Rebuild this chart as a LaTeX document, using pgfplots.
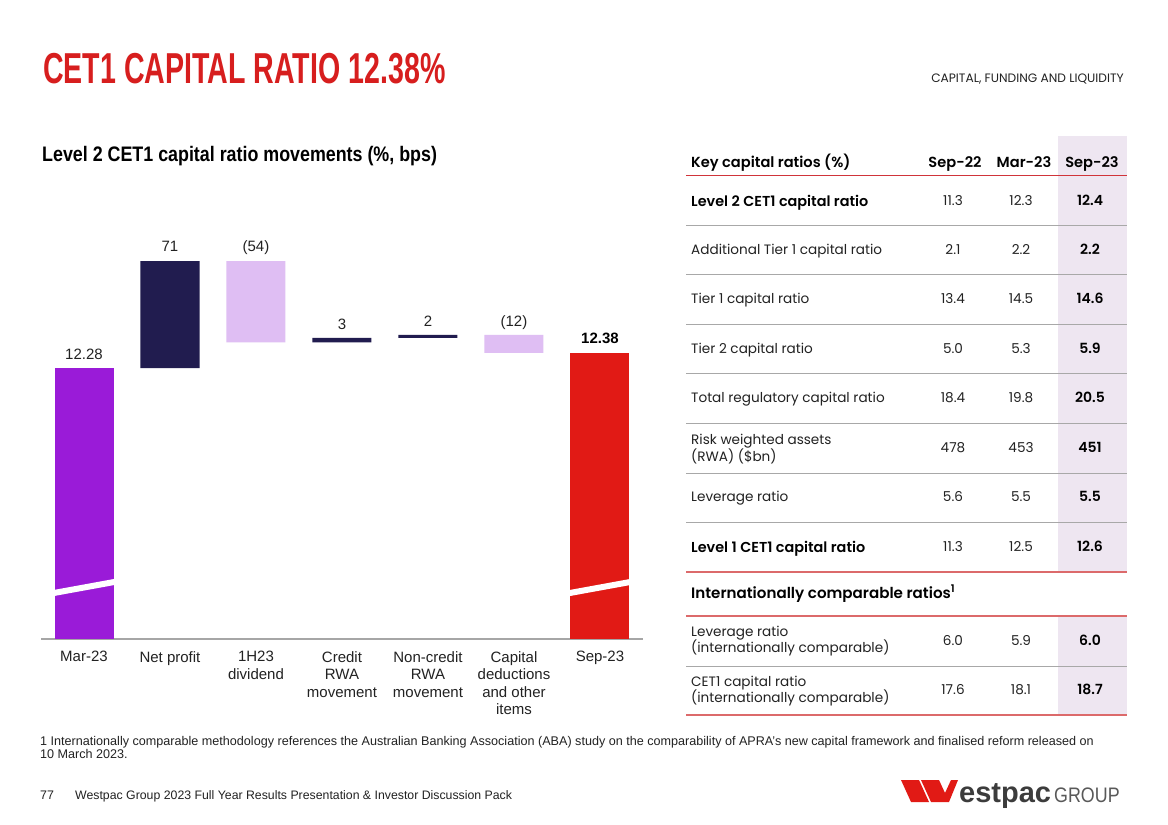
\documentclass[border=0pt]{standalone}
\usepackage{fontspec}
\usepackage{pgfplots}
\pgfplotsset{compat=1.18}
\setmainfont{Liberation Sans}
\IfFontExistsTF{Poppins SemiBold}{\newfontfamily\pop[BoldFont={Poppins SemiBold}]{Poppins}}{\newfontfamily\pop{Poppins}}
\newfontfamily\titlefont[FakeStretch=0.66]{Liberation Sans}
\newfontfamily\subfont[FakeStretch=0.85]{Liberation Sans}
\definecolor{cpurple}{HTML}{9A1BD8}
\definecolor{cnavy}{HTML}{211C4F}
\definecolor{clav}{HTML}{DFBEF3}
\definecolor{cred}{HTML}{E11A15}
\definecolor{titlered}{HTML}{D71E1E}
\definecolor{colshade}{HTML}{EEE6F1}
\definecolor{redline}{HTML}{DC6A6B}
\definecolor{hdrline}{HTML}{D0343A}
\definecolor{sepgray}{HTML}{A8A8A8}
\definecolor{axisgray}{HTML}{A6A6A6}
\definecolor{txt}{HTML}{222222}
\definecolor{logogray}{HTML}{3C3C3C}
\begin{document}
\begin{tikzpicture}
\begin{scope}[x=1pt,y=-1pt]
\path[use as bounding box, fill=white] (0,0) rectangle (1168,825);
% titles
\node[anchor=base west, inner sep=0, text=titlered, font=\titlefont\bfseries\fontsize{43.3}{44}\selectfont] at (43,83) {CET1 CAPITAL RATIO 12.38\%};
\node[anchor=base east, inner sep=0, text=txt, font=\pop\fontsize{12.2}{14}\selectfont] at (1124,82) {CAPITAL, FUNDING AND LIQUIDITY};
\node[anchor=base west, inner sep=0, text=black, font=\subfont\bfseries\fontsize{21}{22}\selectfont] at (42,161) {Level 2 CET1 capital ratio movements (\%, bps)};
% table shading
\fill[colshade] (1058,136) rectangle (1127,572);
\fill[colshade] (1058,616) rectangle (1127,715);
% header
\node[anchor=base west, inner sep=0, text=black, font=\pop\bfseries\fontsize{14.6}{16}\selectfont] at (691,167) {Key capital ratios (\%)};
\foreach \xx/\tt in {955/Sep-22, 1024/Mar-23, 1092/Sep-23}
  \node[anchor=base, inner sep=0, text=black, font=\pop\bfseries\fontsize{14.6}{16}\selectfont] at (\xx,167) {\tt};
\draw[hdrline, line width=1pt] (686,175) -- (1127,175);
% separators
\foreach \yy in {225,274,324,373,423,473,522,666}
  \draw[sepgray, line width=1pt] (686,\yy) -- (1127,\yy);
\foreach \yy in {572,616,715}
  \draw[redline, line width=1.8pt] (686,\yy) -- (1127,\yy);
% rows
\foreach \yy/\lab in {
  250/Additional Tier 1 capital ratio,
  299/Tier 1 capital ratio,
  349/Tier 2 capital ratio,
  398/Total regulatory capital ratio,
  497/Leverage ratio}{
  \node[anchor=base west, inner sep=0, text=txt, font=\pop\fontsize{13.6}{17}\selectfont] at (691,\yy+4.8) {\lab};
}
\foreach \yy/\lab in {201/Level 2 CET1 capital ratio, 547/Level 1 CET1 capital ratio}
  \node[anchor=base west, inner sep=0, text=black, font=\pop\bfseries\fontsize{14.4}{17}\selectfont] at (691,\yy+5) {\lab};
\node[anchor=west, inner sep=0, text=txt, align=left, font=\pop\fontsize{13.6}{16.5}\selectfont] at (691,449) {Risk weighted assets\\(RWA) (\$bn)};
\node[anchor=west, inner sep=0, text=txt, align=left, font=\pop\fontsize{13.6}{16.5}\selectfont] at (691,641) {Leverage ratio\\(internationally comparable)};
\node[anchor=west, inner sep=0, text=txt, align=left, font=\pop\fontsize{13.6}{16.5}\selectfont] at (691,691) {CET1 capital ratio\\(internationally comparable)};
\node[anchor=base west, inner sep=0, text=black, font=\pop\bfseries\fontsize{15.1}{17}\selectfont] at (691,598) {Internationally comparable ratios\textsuperscript{1}};
% values
\foreach \yy/\a/\b/\c in {201/11.3/12.3/12.4, 250/2.1/2.2/2.2, 299/13.4/14.5/14.6, 349/5.0/5.3/5.9, 398/18.4/19.8/20.5, 448/478/453/451, 497/5.6/5.5/5.5, 547/11.3/12.5/12.6, 641/6.0/5.9/6.0, 690/17.6/18.1/18.7}{
  \node[anchor=base, inner sep=0, text=txt, font=\pop\fontsize{13.6}{16}\selectfont] at (953,\yy+4.8) {\a};
  \node[anchor=base, inner sep=0, text=txt, font=\pop\fontsize{13.6}{16}\selectfont] at (1021,\yy+4.8) {\b};
  \node[anchor=base, inner sep=0, text=black, font=\pop\bfseries\fontsize{14}{16}\selectfont] at (1090,\yy+4.9) {\c};
}
% footnote and footer
\node[anchor=base west, inner sep=0, text=txt, align=left, font=\fontsize{12.6}{11.2}\selectfont] at (40,758) {1 Internationally comparable methodology references the Australian Banking Association (ABA) study on the comparability of APRA's new capital framework and finalised reform released on\\10 March 2023.};
\node[anchor=base west, inner sep=0, text=txt, font=\fontsize{12.4}{14}\selectfont] at (40,799) {77};
\node[anchor=base west, inner sep=0, text=txt, font=\fontsize{12.3}{14}\selectfont] at (75,799) {Westpac Group 2023 Full Year Results Presentation \& Investor Discussion Pack};
% logo
\fill[cred] (901,780) -- (919,780) -- (929,802) -- (911,802) -- cycle;
\fill[cred] (921,780) -- (939,780) -- (945,793) -- (951,780) -- (958,780) -- (949,802) -- (931,802) -- cycle;
\node[anchor=base west, inner sep=0, text=logogray, font=\bfseries\fontsize{29}{30}\selectfont] at (959,802) {estpac};
\node[anchor=base west, inner sep=0, text=logogray!85, font=\subfont\fontsize{21}{22}\selectfont] at (1054,802) {GROUP};
\end{scope}
\begin{axis}[
  at={(41pt,-639pt)}, anchor=south west,
  scale only axis, width=602pt, height=407pt,
  xmin=-0.5, xmax=6.5, ymin=10.482, ymax=13.183,
  ybar stacked, bar width=59pt,
  axis y line=none, axis x line*=bottom,
  x axis line style={draw=axisgray, line width=1.2pt},
  xtick={0,1,2,3,4,5,6},
  xticklabels={Mar-23, Net profit, {1H23\\dividend}, {Credit\\RWA\\movement}, {Non-credit\\RWA\\movement}, {Capital\\deductions\\and other\\items}, Sep-23},
  major tick length=0pt,
  xticklabel style={font=\fontsize{15}{17.4}\selectfont, align=center, text=txt, anchor=north, yshift=-9pt},
  clip mode=individual,
]
\addplot[draw=none, fill=none] coordinates {(0,0) (1,12.28) (2,12.45) (3,12.45) (4,12.48) (5,12.38) (6,0)};
\addplot[draw=none, fill=cpurple] coordinates {(0,12.28) (1,0) (2,0) (3,0) (4,0) (5,0) (6,0)};
\addplot[draw=none, fill=cnavy] coordinates {(0,0) (1,0.71) (2,0) (3,0.03) (4,0.02) (5,0) (6,0)};
\addplot[draw=none, fill=clav] coordinates {(0,0) (1,0) (2,0.54) (3,0) (4,0) (5,0.12) (6,0)};
\addplot[draw=none, fill=cred] coordinates {(0,0) (1,0) (2,0) (3,0) (4,0) (5,0) (6,12.38)};
\node[anchor=base, text=txt, font=\fontsize{15}{17}\selectfont, inner sep=0, yshift=9pt] at (axis cs:0,12.28) {12.28};
\node[anchor=base, text=txt, font=\fontsize{15}{17}\selectfont, inner sep=0, yshift=10pt] at (axis cs:1,12.99) {71};
\node[anchor=base, text=txt, font=\fontsize{15}{17}\selectfont, inner sep=0, yshift=10pt] at (axis cs:2,12.99) {(54)};
\node[anchor=base, text=txt, font=\fontsize{15}{17}\selectfont, inner sep=0, yshift=8pt] at (axis cs:3,12.48) {3};
\node[anchor=base, text=txt, font=\fontsize{15}{17}\selectfont, inner sep=0, yshift=8pt] at (axis cs:4,12.50) {2};
\node[anchor=base, text=txt, font=\fontsize{15}{17}\selectfont, inner sep=0, yshift=8pt] at (axis cs:5,12.50) {(12)};
\node[anchor=base, text=black, font=\bfseries\fontsize{15}{17}\selectfont, inner sep=0, yshift=9pt] at (axis cs:6,12.38) {12.38};
\end{axis}
\begin{scope}[x=1pt,y=-1pt]
% axis-break stripes across the two total bars
\draw[white, line width=6pt] (50,593.7) -- (118,581.3);
\draw[white, line width=6pt] (566,593.7) -- (634,581.3);
\end{scope}
\end{tikzpicture}
\end{document}
